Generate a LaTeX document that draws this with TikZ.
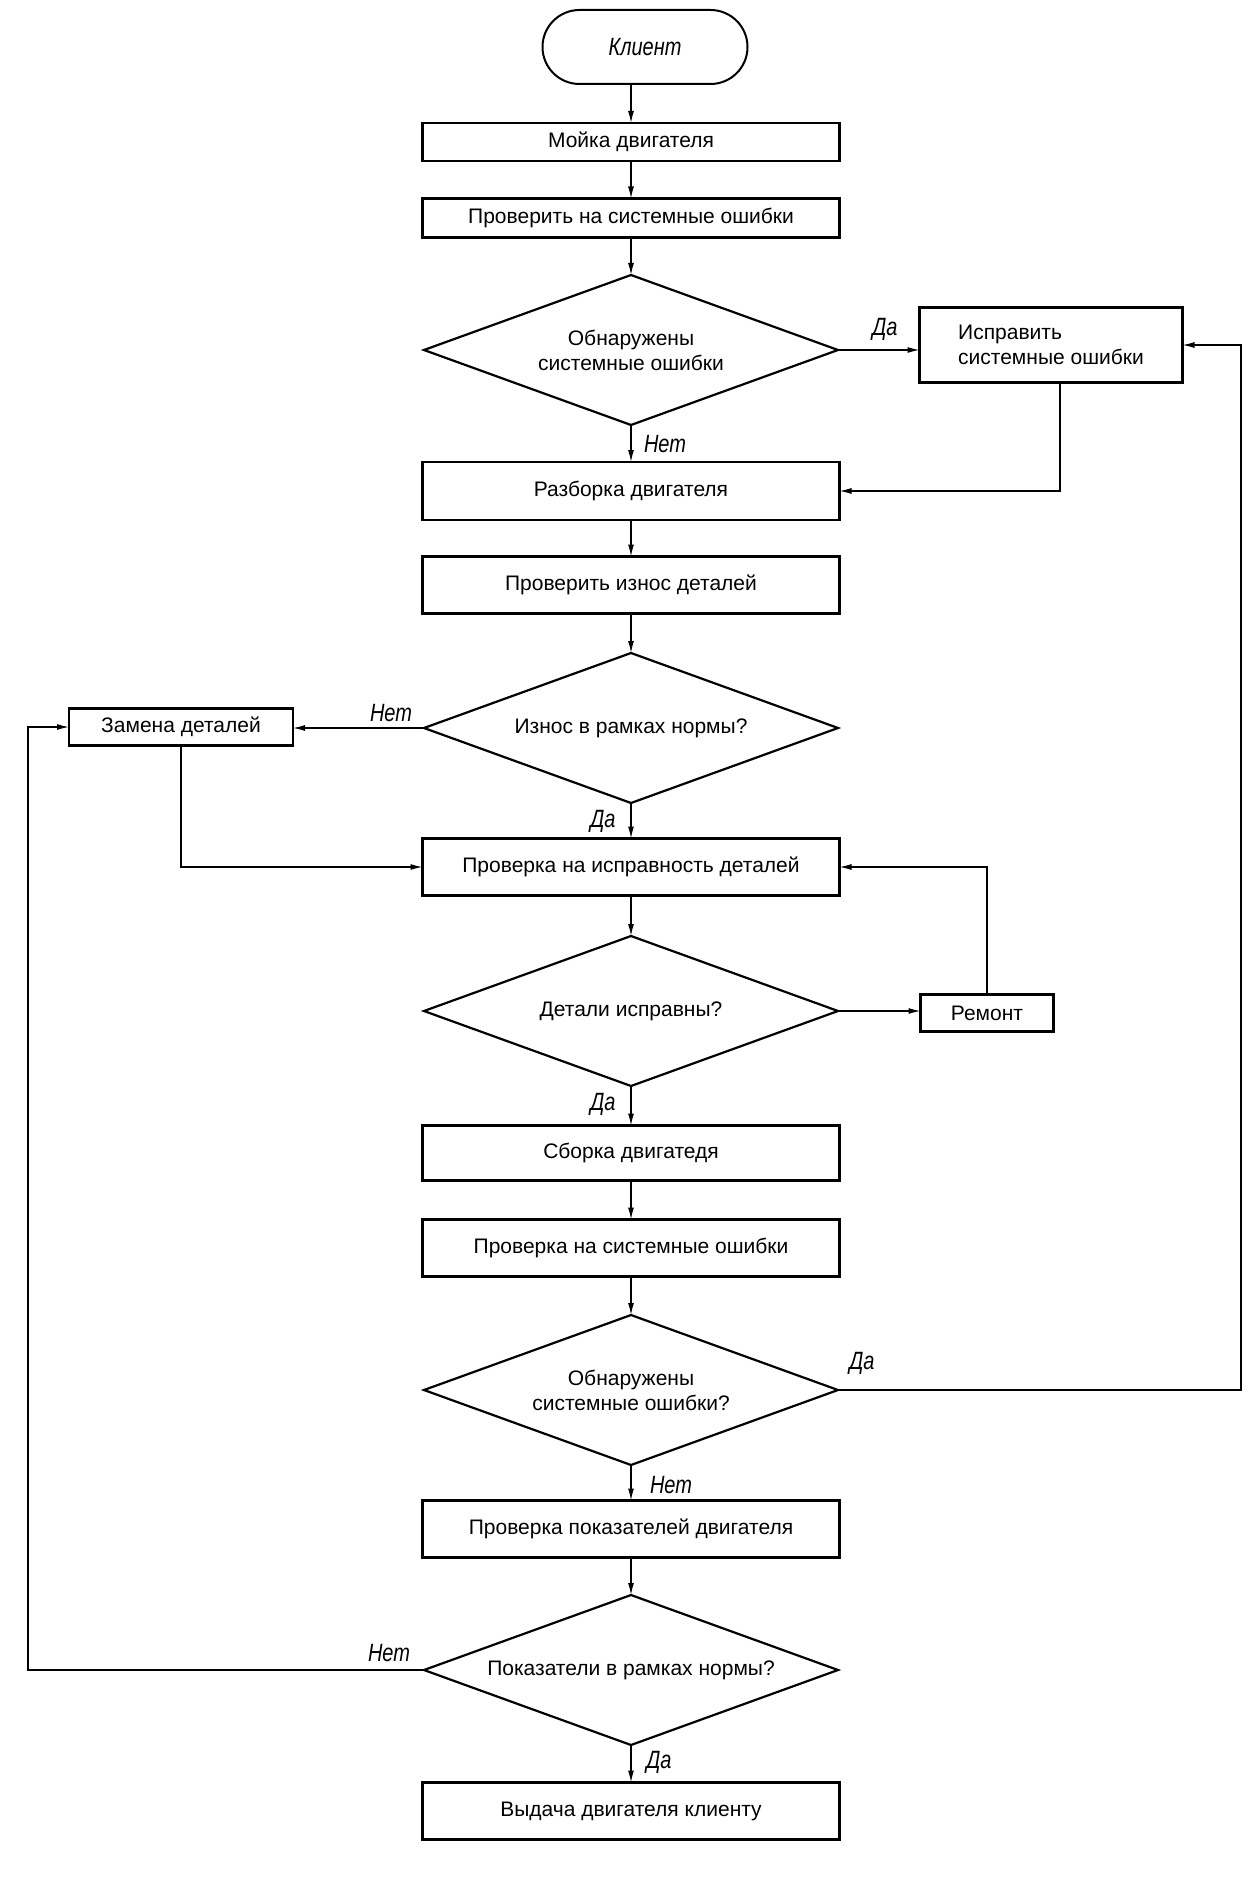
\documentclass[tikz,border=0pt]{standalone}
\usepackage{fontspec}
\setmainfont{Liberation Sans}
\newfontfamily\gost[FakeStretch=0.8]{Liberation Sans}
\usetikzlibrary{shapes.geometric,arrows.meta}
\begin{document}
\begin{tikzpicture}[x=1pt,y=1pt,
  box/.style={draw,line width=2.2pt,minimum width=417pt,minimum height=#1,inner sep=0pt,outer sep=0pt,font=\fontsize{21}{25}\selectfont},
  box/.default=48pt,
  decision/.style={diamond,draw,line width=2.2pt,minimum width=414pt,minimum height=150pt,aspect=2.76,inner sep=0pt,outer sep=0pt,align=center,font=\fontsize{21}{25}\selectfont},
  term/.style={draw,line width=2pt,rounded corners=37pt,minimum width=205pt,minimum height=74pt,inner sep=0pt,outer sep=0pt},
  lbl/.style={font=\gost\itshape\fontsize{25}{25}\selectfont,inner sep=0pt},
  conn/.style={line width=1.3pt,-{Latex[length=12pt,width=6pt]}},
  line/.style={line width=1.3pt}
]
\fill[white] (0,0) rectangle (1255,-1894);
\useasboundingbox (0,0) rectangle (1255,-1894);

\node[term] (klient) at (645,-47) {\gost\itshape\fontsize{25}{25}\selectfont Клиент};
\node[box=38pt] (wash) at (631,-142) {Мойка двигателя};
\node[box=39pt] (check1) at (631,-218) {Проверить на системные ошибки};
\node[decision] (d1) at (631,-350) {Обнаружены\\системные ошибки};
\node[box=75pt,minimum width=263pt,align=left] (fix) at (1051,-345) {Исправить\\системные ошибки};
\node[box=58pt] (disasm) at (631,-491) {Разборка двигателя};
\node[box=57pt] (wear) at (631,-585) {Проверить износ деталей};
\node[decision] (d2) at (631,-728) {Износ в рамках нормы?};
\node[box=37pt,minimum width=224pt] (replace) at (181,-727) {Замена деталей};
\node[box=57pt] (inspect) at (631,-867) {Проверка на исправность деталей};
\node[decision] (d3) at (631,-1011) {Детали исправны?};
\node[box=37pt,minimum width=133pt] (repair) at (987,-1013) {Ремонт};
\node[box=55pt] (assemble) at (631,-1153) {Сборка двигатедя};
\node[box=57pt] (check2) at (631,-1248) {Проверка на системные ошибки};
\node[decision] (d4) at (631,-1390) {Обнаружены\\системные ошибки?};
\node[box=57pt] (perf) at (631,-1529) {Проверка показателей двигателя};
\node[decision] (d5) at (631,-1670) {Показатели в рамках нормы?};
\node[box=57pt] (deliver) at (631,-1811) {Выдача двигателя клиенту};

\coordinate (rtop) at (1241,-345);
\coordinate (ltop) at (28,-727);
\coordinate (fixdown) at (1060,-383);

% main column
\draw[conn] (klient.south -| wash.north) -- (wash.north);
\draw[conn] (wash) -- (check1);
\draw[conn] (check1) -- (d1.north);
\draw[conn] (d1.south) -- (disasm.north);
\draw[conn] (disasm) -- (wear);
\draw[conn] (wear) -- (d2.north);
\draw[conn] (d2.south) -- (inspect.north);
\draw[conn] (inspect) -- (d3.north);
\draw[conn] (d3.south) -- (assemble.north);
\draw[conn] (assemble) -- (check2);
\draw[conn] (check2) -- (d4.north);
\draw[conn] (d4.south) -- (perf.north);
\draw[conn] (perf) -- (d5.north);
\draw[conn] (d5.south) -- (deliver.north);

% branches
\draw[conn] (d1.east) -- (d1.east -| fix.west);
\draw[conn] (fixdown) |- (disasm.east);
\draw[conn] (d2.west) -- (d2.west -| replace.east);
\draw[conn] (replace.south) |- (inspect.west);
\draw[conn] (d3.east) -- (d3.east -| repair.west);
\draw[conn] (repair.north) |- (inspect.east);
\draw[conn] (d4.east) -| (rtop) -- (fix.east);
\draw[conn] (d5.west) -| (ltop) -- (replace.west);

% labels
\node[lbl] (l1) at (885,-329) {Да};
\node[lbl] (l2) at (665,-444) {Нет};
\node[lbl] (l3) at (391,-713) {Нет};
\node[lbl] (l4) at (603,-821) {Да};
\node[lbl] (l5) at (603,-1104) {Да};
\node[lbl] (l6) at (862,-1363) {Да};
\node[lbl] (l7) at (671,-1485) {Нет};
\node[lbl] (l8) at (389,-1653) {Нет};
\node[lbl] (l9) at (659,-1762) {Да};
\end{tikzpicture}
\end{document}
